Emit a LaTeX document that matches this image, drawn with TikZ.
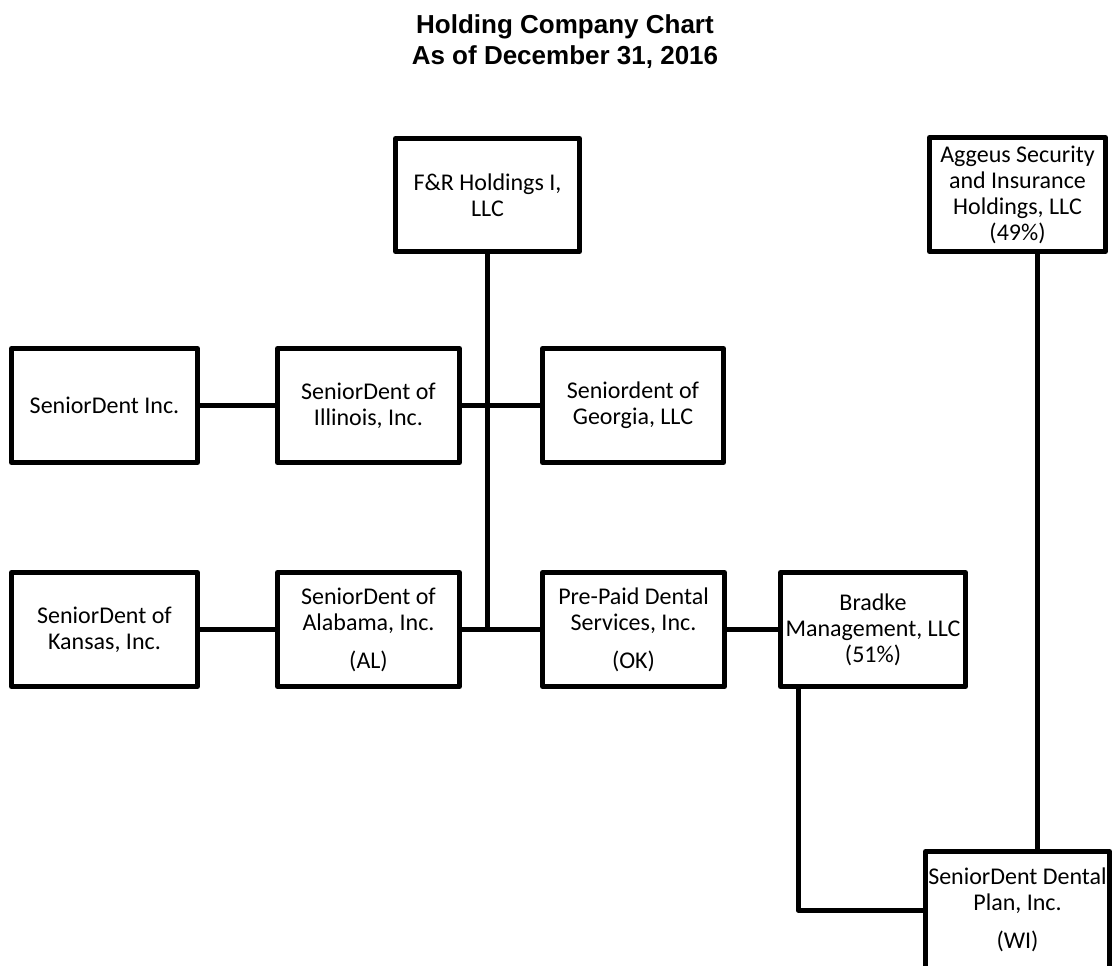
\documentclass[tikz,border=0pt]{standalone}
\usepackage{fontspec}
\setmainfont{Carlito}
\newfontfamily\titlefont{Liberation Sans}
\begin{document}
\begin{tikzpicture}[x=1pt,y=-1pt,
  box/.style={draw=black, line width=5pt, line join=round, fill=white, align=center, inner sep=0pt, font=\fontsize{24}{26}\selectfont},
  link/.style={draw=black, line width=5pt, line join=round}]
\clip (0,0) rectangle (1112,966);
\node[font=\titlefont\bfseries\fontsize{26}{31}\selectfont, align=center] (title) at (565,42) {Holding Company Chart\\As of December 31, 2016};
\node[box, minimum width=184pt, minimum height=113pt] (fr) at (487.5,195) {F\&R Holdings I,\\LLC};
\node[box, minimum width=176pt, minimum height=114pt] (agg) at (1017.5,194.5) {Aggeus Security\\and Insurance\\Holdings, LLC\\(49\%)};
\node[box, minimum width=186pt, minimum height=114pt] (inc) at (104.5,405.5) {SeniorDent Inc.};
\node[box, minimum width=182pt, minimum height=114pt] (ill) at (368.5,405.5) {SeniorDent of\\Illinois, Inc.};
\node[box, minimum width=181pt, minimum height=114pt] (geo) at (633,405.5) {Seniordent of\\Georgia, LLC};
\node[box, minimum width=186pt, minimum height=114pt] (kan) at (104.5,629.5) {SeniorDent of\\Kansas, Inc.};
\node[box, minimum width=182pt, minimum height=114pt] (ala) at (368.5,629.5) {SeniorDent of\\Alabama, Inc.\\[12pt](AL)};
\node[box, minimum width=182pt, minimum height=114pt] (pre) at (633.5,629.5) {Pre-Paid Dental\\Services, Inc.\\[12pt](OK)};
\node[box, minimum width=185pt, minimum height=114pt] (bra) at (873,629.5) {Bradke\\Management, LLC\\(51\%)};
\node[box, minimum width=184pt, minimum height=117pt] (den) at (1017.5,910) {SeniorDent Dental\\Plan, Inc.\\[12pt](WI)};
\draw[link] (inc.east) -- (ill.west);
\draw[link] (ill.east) -- (geo.west);
\draw[link] (fr.south) -- (fr.south |- ala.east);
\draw[link] (kan.east) -- (ala.west);
\draw[link] (ala.east) -- (pre.west);
\draw[link] (pre.east) -- (bra.west);
\draw[link] ([xshift=-75pt]bra.south) |- (den.west);
\draw[link] ([xshift=19.5pt]agg.south) -- ([xshift=19.5pt]agg.south |- den.north);
\end{tikzpicture}
\end{document}
